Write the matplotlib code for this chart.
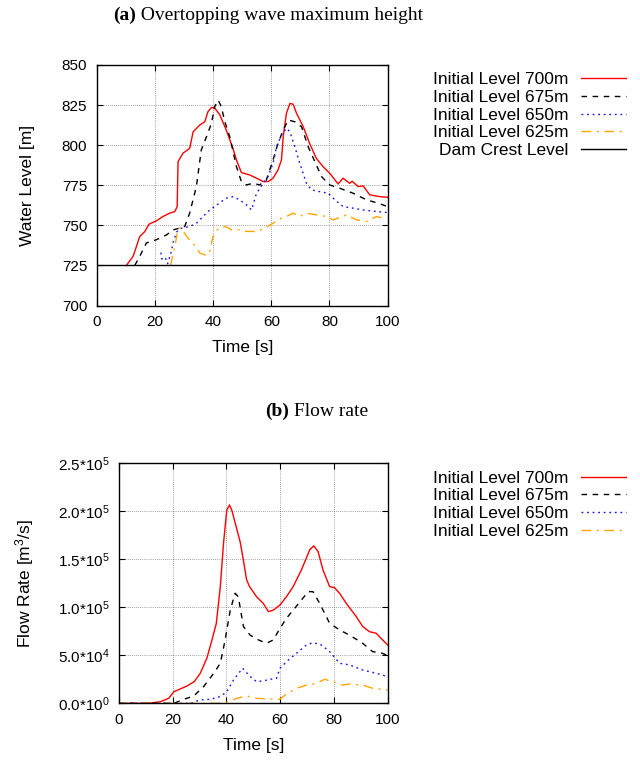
#!/usr/bin/env python

import matplotlib
matplotlib.use("Agg")
import matplotlib.pyplot as plt

plt.rcParams['font.family'] = ['Liberation Sans', 'DejaVu Sans']
plt.rcParams['mathtext.fontset'] = 'custom'
plt.rcParams['mathtext.rm'] = 'Liberation Sans'
plt.rcParams['mathtext.it'] = 'Liberation Sans:italic'
plt.rcParams['mathtext.bf'] = 'Liberation Sans:bold'

# (a) water level [m] vs time [s]
t700 = [10.1, 12.4, 13.0, 14.7, 16.4, 17.9, 20.4, 22.7, 25.0, 26.8, 27.6, 27.9, 29.6, 31.9,
        33.1, 35.4, 37.1, 38.2, 39.4, 40.5, 42.3, 44.5, 46.8, 48.0, 49.7, 52.6, 54.9, 57.2,
        58.9, 60.6, 62.3, 63.5, 64.1, 65.2, 66.4, 67.5, 68.7, 71.0, 73.2, 75.5, 77.8, 80.1,
        83.0, 84.7, 87.0, 87.8, 89.9, 91.6, 93.9, 97.4, 100.0]
h700 = [725, 730.6, 733.7, 743, 746, 750.7, 752.8, 755.5, 757.6, 758.6, 761.7, 789.7, 795, 798,
        808.4, 812.6, 814.6, 820.9, 823.5, 823.3, 818.8, 809.4, 798, 790.8, 782.9, 781.4, 779.4, 777.3,
        777.3, 779.4, 784.5, 790.8, 805.3, 819.8, 826, 825.6, 819.8, 811.5, 801, 791.8, 786.6, 782.5,
        775.8, 779.4, 776.2, 777.5, 774.2, 774.6, 769, 767.9, 767.5]

t675 = [13.0, 14.7, 17.0, 20.4, 23.9, 26.2, 28.5, 30.2, 31.9, 34.2, 35.9, 37.7, 39.4, 40.5,
        41.7, 42.8, 44.0, 45.7, 48.0, 49.7, 51.4, 53.7, 56.0, 58.3, 60.6, 62.3, 64.1, 65.8,
        68.1, 70.4, 72.7, 75.0, 77.3, 80.1, 83.6, 88.2, 92.8, 96.8, 100.0]
h675 = [725, 730.6, 739, 741, 744, 747.2, 748.2, 749.3, 757.6, 774.2, 797, 805.3, 813.6, 824,
        828.1, 824, 814.6, 805.3, 786.6, 777.3, 775.2, 776.2, 775.2, 778.3, 790.8, 801.1, 809.4, 815.7,
        814.6, 811.5, 799, 789.7, 780.4, 775.2, 773.1, 770, 765.9, 763.8, 761.7]

t650 = [22.0, 22.3, 23.5, 24.3, 25.5, 26.3, 27.5, 29.0, 31.9, 34.2, 36.5, 38.8, 40.5, 42.8,
        44.5, 46.8, 49.1, 51.4, 53.2, 54.9, 57.2, 58.9, 60.6, 61.8, 63.5, 65.2, 66.4, 68.1,
        69.8, 72.1, 73.8, 76.7, 79.6, 81.9, 84.7, 88.2, 91.6, 96.2, 100.0]
h650 = [733, 729, 730, 726, 733, 740, 746, 748.2, 749.3, 751.3, 755.5, 759.6, 761.7, 764.8,
        766.9, 767.9, 765.9, 762.8, 759.6, 770, 776.2, 780.4, 788.7, 799, 806.3, 810.5, 808.4, 799,
        788.7, 776.2, 772.1, 771, 770, 765.9, 761.7, 760.7, 759.6, 758.6, 758]

t625 = [25.3, 26.8, 27.9, 29.0, 31.3, 33.0, 35.4, 37.7, 38.8, 39.9, 41.7, 44.3, 46.3, 48.6,
        51.4, 54.9, 57.7, 60.6, 63.5, 65.2, 67.5, 69.8, 72.1, 75.5, 79.0, 81.3, 85.9, 89.3,
        92.8, 96.2, 98.5, 100.0]
h625 = [725, 736.8, 748.2, 748.2, 742, 739, 732.7, 731.2, 734, 743, 748, 749.3, 747.2, 747.2,
        746.2, 746.2, 748.2, 751.3, 754.5, 755.5, 757.6, 755.5, 757.6, 756.5, 755.5, 753.4, 756.5, 753.4,
        752.4, 755.5, 754.5, 754.5]

dam_crest = 725

# (b) flow rate [m3/s] vs time [s]
q_t700 = [0, 9.3, 13.0, 15.4, 18.5, 20.4, 22.8, 25.3, 28.0, 30.2, 32.7, 34.6, 36.2, 37.7, 38.9,
          40.1, 41.1, 42.0, 43.6, 45.1, 46.3, 47.5, 48.6, 51.2, 53.7, 55.6, 57.4, 59.9, 62.3,
          64.8, 67.9, 71.0, 72.5, 74.1, 75.9, 78.4, 80.2, 82.1, 84.6, 88.3, 90.7, 93.2, 95.7,
          98.1, 100.0]
q700 = [0, 0, 700, 1700, 5200, 12000, 15000, 18000, 22600, 31000, 47000, 66000, 83000, 121500, 166700,
        201000, 206600, 201000, 184000, 168000, 149000, 128500, 121500, 111000, 104000, 95500, 97000, 102400, 111000,
        121500, 139000, 160000, 164000, 158000, 139000, 121500, 120500, 114600, 104000, 90300, 80000, 74600, 73000,
        66000, 60800]

q_t675 = [0, 20.4, 24.0, 27.8, 31.5, 35.2, 37.7, 39.5, 41.4, 43.2, 44.4, 46.3, 48.8, 51.9,
          54.9, 57.4, 59.9, 62.3, 64.8, 67.9, 70.4, 72.2, 74.7, 78.4, 82.1, 85.8, 90.7, 94.4,
          98.1, 100.0]
q675 = [0, 0, 4000, 7600, 17400, 31000, 41700, 66000, 97000, 114600, 111000, 80000, 71000, 66000,
        62500, 66000, 78000, 88500, 97000, 107600, 116300, 116300, 104000, 83300, 76400, 71000, 62500, 53800,
        52000, 49700]

q_t650 = [0, 26.5, 30.2, 34.0, 37.7, 40.1, 42.6, 46.0, 48.8, 51.2, 53.7, 56.2, 58.6, 59.9,
          63.0, 66.0, 69.8, 72.2, 75.3, 78.4, 82.1, 85.8, 90.7, 95.7, 100.0]
q650 = [0, 0, 3500, 4200, 7000, 12000, 24300, 36500, 27800, 22600, 23300, 25000, 26000, 36500,
        45000, 52000, 60800, 63200, 60800, 53800, 41700, 40000, 34700, 31300, 27800]

q_t625 = [0, 38.0, 40.7, 43.8, 47.5, 51.2, 55.6, 59.9, 62.3, 66.0, 69.8, 73.5, 76.5, 79.6,
          82.7, 85.8, 90.7, 94.4, 100.0]
q625 = [0, 0, 1700, 5200, 7600, 5200, 4500, 4200, 9700, 15600, 19000, 20800, 25000, 22600,
        19000, 20000, 19000, 15600, 13900]

q_ticks = [0, 5e4, 1e5, 1.5e5, 2e5, 2.5e5]
q_ticklabels = [r"0.0*10$^0$", r"5.0*10$^4$", r"1.0*10$^5$", r"1.5*10$^5$",
                r"2.0*10$^5$", r"2.5*10$^5$"]

series = [
    ("Initial Level 700m", dict(color="#ff0000", linestyle="-")),
    ("Initial Level 675m", dict(color="black", dashes=(4, 4))),
    ("Initial Level 650m", dict(color="#1515ff", dashes=(1.3, 2.7))),
    ("Initial Level 625m", dict(color="#ffa500", dashes=(7, 4, 1.5, 4))),
]

W, H = 640.0, 762.0


def style_axes(ax):
    ax.set_xlim(0, 100)
    ax.set_xticks(range(0, 101, 20))
    ax.grid(True, color="black", linestyle=(0, (1, 2)), linewidth=0.5, alpha=0.7)
    ax.tick_params(direction="in", top=True, right=True, length=4, width=0.8,
                   labelsize=11, pad=7)
    ax.set_xlabel("Time [s]", fontsize=12.5, labelpad=8)
    for sp in ax.spines.values():
        sp.set_linewidth(1.0)


def add_legend(ax, top_px):
    ax.legend(loc="upper right", bbox_to_anchor=(626 / W, 1 - top_px / H),
              bbox_transform=ax.figure.transFigure, frameon=False, fontsize=12.5,
              markerfirst=False, handlelength=2.6, handletextpad=0.7,
              labelspacing=0.15, borderpad=0, borderaxespad=0)


def add_title(fig, x_px, y_px, tag, text):
    t = fig.text(x_px / W, 1 - y_px / H, tag, fontsize=14, fontweight="bold",
                 family="Liberation Serif", va="center")
    fig.add_artist(plt.Annotation(text, xy=(1, 0), xycoords=t, va="bottom", ha="left",
                                  fontsize=14, family="Liberation Serif"))


fig = plt.figure(figsize=(6.4, 7.62), dpi=100)

# ---- (a) ----
ax1 = fig.add_axes([97 / W, 1 - 305.5 / H, 290.5 / W, 240.5 / H])
for (label, st), tt, hh in zip(series, [t700, t675, t650, t625], [h700, h675, h650, h625]):
    ax1.plot(tt, hh, linewidth=1.0, label=label, **st)
ax1.axhline(dam_crest, color="black", linewidth=1.0, label="Dam Crest Level")
style_axes(ax1)
ax1.set_ylim(700, 850)
ax1.set_yticks(range(700, 851, 25))
ax1.set_ylabel("Water Level [m]", fontsize=12.5)
ax1.yaxis.set_label_coords(-0.215, 0.5)
add_legend(ax1, 72)

# ---- (b) ----
ax2 = fig.add_axes([119 / W, 1 - 703.3 / H, 268.7 / W, 240 / H])
for (label, st), tt, qq in zip(series, [q_t700, q_t675, q_t650, q_t625], [q700, q675, q650, q625]):
    ax2.plot(tt, qq, linewidth=1.0, label=label, **st)
style_axes(ax2)
ax2.set_ylim(0, 2.5e5)
ax2.set_yticks(q_ticks)
ax2.set_yticklabels(q_ticklabels)
ax2.set_ylabel(r"Flow Rate [m$^3$/s]", fontsize=12.5)
ax2.yaxis.set_label_coords(-0.31, 0.5)
add_legend(ax2, 470.5)

add_title(fig, 113, 15, "(a)", " Overtopping wave maximum height")
add_title(fig, 265, 411, "(b)", " Flow rate")

fig.savefig("out.png", dpi=100)
